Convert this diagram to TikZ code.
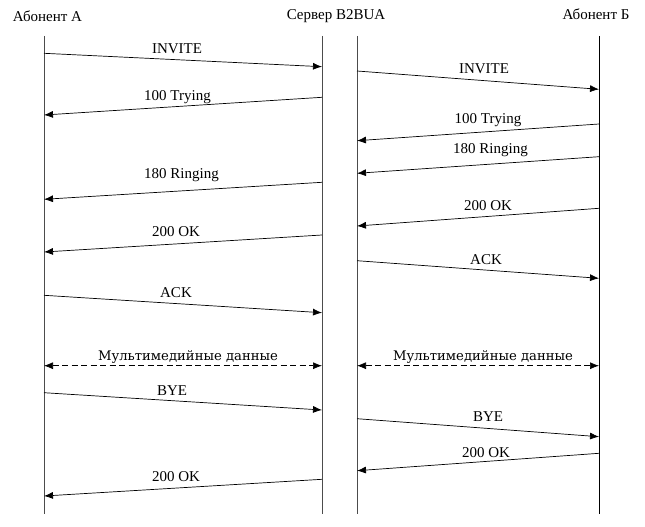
\documentclass[tikz,border=0pt]{standalone}
\usepackage{fontspec}
\setmainfont{Liberation Serif}
\newfontfamily\dvserif{DejaVu Serif}
\usetikzlibrary{arrows.meta}

\begin{document}
\begin{tikzpicture}[x=1pt,y=-1pt,
  party/.style={font=\fontsize{15}{17}\selectfont,inner sep=0pt},
  lbl/.style={font=\fontsize{15}{17}\selectfont,inner sep=0pt,anchor=base},
  media/.style={font=\dvserif\fontsize{13.2}{16}\selectfont,inner sep=0pt,anchor=base},
  life/.style={line width=0.9pt,black!70},
  msg/.style={line width=0.7pt,-{Latex[length=9pt,width=7pt]}},
  data/.style={line width=0.7pt,dashed,dash pattern=on 6pt off 3.5pt,
    {Latex[length=9pt,width=7pt]}-{Latex[length=9pt,width=7pt]}}]
\useasboundingbox (0,0) rectangle (645,527);

% parties
\node[party] (abA) at (47.5,16) {Абонент А};
\node[party] (srv) at (336,16) {Сервер B2BUA};
\node[party] (abB) at (596,14) {Абонент Б};

% lifelines
\coordinate (a0) at (44,36);   \coordinate (a1) at (44,514);
\coordinate (s0) at (322,36);  \coordinate (s1) at (322,514);
\coordinate (r0) at (357,36);  \coordinate (r1) at (357,514);
\coordinate (b0) at (599,36);  \coordinate (b1) at (599,514);
\draw[life] (a0) -- (a1);
\draw[life] (s0) -- (s1);
\draw[life] (r0) -- (r1);
\draw[life,black] (b0) -- (b1);

% A <-> B2BUA
\draw[msg] (a0 |- 0,53.3) -- (s0 |- 0,66.7);
\node[lbl] (invA) at (177,53) {INVITE};
\draw[msg] (s0 |- 0,97.3) -- (a0 |- 0,115);
\node[lbl] (tryA) at (177.5,100) {100 Trying};
\draw[msg] (s0 |- 0,182.3) -- (a0 |- 0,199.3);
\node[lbl] (ringA) at (181.5,178) {180 Ringing};
\draw[msg] (s0 |- 0,235) -- (a0 |- 0,252);
\node[lbl] (okA) at (176,236.7) {200 OK};
\draw[msg] (a0 |- 0,295.3) -- (s0 |- 0,312.7);
\node[lbl] (ackA) at (176,297.7) {ACK};
\draw[data] (a0 |- 0,365.7) -- (s0 |- 0,365.7);
\node[media] (mmA) at (188,360) {Мультимедийные данные};
\draw[msg] (a0 |- 0,392.7) -- (s0 |- 0,410);
\node[lbl] (byeA) at (172,395) {BYE};
\draw[msg] (s0 |- 0,479.3) -- (a0 |- 0,496);
\node[lbl] (byeokA) at (176,481.7) {200 OK};

% B2BUA <-> B
\draw[msg] (r0 |- 0,71) -- (b0 |- 0,89.3);
\node[lbl] (invB) at (484,74) {INVITE};
\draw[msg] (b0 |- 0,124) -- (r0 |- 0,140.7);
\node[lbl] (tryB) at (488,123.5) {100 Trying};
\draw[msg] (b0 |- 0,156.7) -- (r0 |- 0,173.3);
\node[lbl] (ringB) at (490.5,153.3) {180 Ringing};
\draw[msg] (b0 |- 0,208.3) -- (r0 |- 0,226);
\node[lbl] (okB) at (488,210.7) {200 OK};
\draw[msg] (r0 |- 0,260.7) -- (b0 |- 0,278.3);
\node[lbl] (ackB) at (486,264.7) {ACK};
\draw[data] (r0 |- 0,365.7) -- (b0 |- 0,365.7);
\node[media] (mmB) at (483,360) {Мультимедийные данные};
\draw[msg] (r0 |- 0,418.7) -- (b0 |- 0,436.7);
\node[lbl] (byeB) at (488,421) {BYE};
\draw[msg] (b0 |- 0,453.3) -- (r0 |- 0,470.7);
\node[lbl] (byeokB) at (486,457.3) {200 OK};
\end{tikzpicture}
\end{document}
